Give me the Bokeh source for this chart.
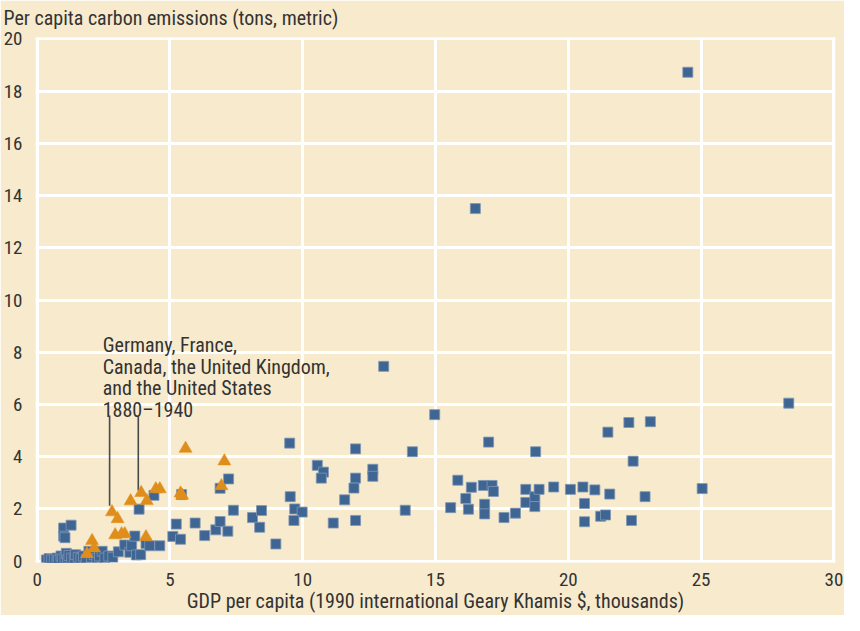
from bokeh.plotting import figure
from bokeh.models import Range1d, Label, FixedTicker, ColumnDataSource, Segment, Title
from bokeh.embed import file_html
from bokeh.resources import INLINE

# --- data: countries today (blue squares) ---
modern_gdp = [0.35, 0.45, 0.55, 0.65, 0.75, 0.8, 0.9, 0.95, 1.05, 1.1, 1.15, 1.2, 1.3, 1.4,
              1.45, 1.55, 1.65, 1.75, 1.85, 1.95, 2.05, 2.15, 2.25, 2.35, 2.45, 2.55, 2.7, 2.85,
              1.0, 1.28, 1.0, 1.05,
              3.06, 3.3, 3.49, 3.56, 3.68, 3.74, 3.9, 4.1, 4.24, 4.62,
              3.84, 4.4, 5.24, 5.11, 5.40, 5.44, 5.95, 6.31, 6.73, 6.89, 7.18, 6.89, 7.21, 7.39,
              8.11, 8.45, 8.38, 8.99,
              9.51, 9.53, 9.70, 9.98, 9.67, 10.55, 10.78, 10.70, 11.99, 11.99, 12.64, 12.64,
              11.93, 11.58, 11.15, 11.99, 13.86, 14.13, 14.97, 13.05, 16.5, 24.5,
              15.84, 16.35, 16.14, 16.80, 17.13, 17.18, 15.57, 16.24, 16.85, 16.85, 17.58, 18.01,
              18.40, 18.40, 18.74, 18.74, 18.90, 19.45, 20.08, 17.0, 18.77,
              20.55, 21.0, 21.56, 22.89, 25.04, 20.61, 20.61, 21.22, 21.40, 22.38, 21.49, 22.28,
              23.09, 22.44, 28.3]
modern_co2 = [0.05, 0.1, 0.05, 0.08, 0.12, 0.04, 0.2, 0.08, 0.15, 0.3, 0.05, 0.22, 0.12, 0.08,
              0.25, 0.15, 0.1, 0.2, 0.07, 0.38, 0.15, 0.25, 0.1, 0.2, 0.38, 0.12, 0.2, 0.15,
              1.27, 1.38, 0.96, 0.9,
              0.36, 0.62, 0.34, 0.59, 0.96, 0.24, 0.25, 0.68, 0.59, 0.59,
              1.99, 2.52, 1.42, 0.95, 0.84, 2.55, 1.46, 0.98, 1.2, 1.52, 1.15, 2.79, 3.15, 1.95,
              1.67, 1.94, 1.3, 0.66,
              4.52, 2.47, 2.0, 1.88, 1.56, 3.67, 3.41, 3.18, 4.30, 3.18, 3.52, 3.25,
              2.80, 2.35, 1.46, 1.56, 1.95, 4.19, 5.61, 7.46, 13.5, 18.72,
              3.10, 2.83, 2.40, 2.90, 2.90, 2.67, 2.05, 1.99, 2.18, 1.81, 1.67, 1.84,
              2.75, 2.25, 2.47, 2.09, 2.75, 2.84, 2.75, 4.56, 4.19,
              2.84, 2.73, 2.57, 2.47, 2.78, 2.21, 1.51, 1.72, 1.77, 1.56, 4.94, 5.31,
              5.34, 3.83, 6.05]

# --- data: Germany, France, Canada, UK, US 1880-1940 (orange triangles) ---
hist_gdp = [1.88, 2.15, 2.07, 2.82, 3.03, 2.94, 3.18, 3.30, 3.52, 3.92, 4.13, 4.10, 4.47,
            4.62, 5.40, 5.46, 5.59, 6.94, 7.05]
hist_co2 = [0.28, 0.5, 0.78, 1.88, 1.62, 1.0, 1.04, 1.04, 2.30, 2.62, 2.31, 0.93, 2.76,
            2.76, 2.60, 2.52, 4.31, 2.88, 3.83]

x_ticks = [0, 5, 10, 15, 20, 25, 30]
y_ticks = [0, 2, 4, 6, 8, 10, 12, 14, 16, 18, 20]

annotation_lines = ["Germany, France,", "Canada, the United Kingdom,",
                    "and the United States", "1880\u20131940"]
pointer_x = [2.73, 3.81]
pointer_top = [5.58, 5.52]
pointer_bottom = [2.12, 2.71]

y_title = "Per capita carbon emissions (tons, metric)"
x_title = "GDP per capita (1990 international Geary Khamis $, thousands)"

BG = "#F7EACD"
BLUE = "#3F6593"
ORANGE = "#E08E1B"
TEXT = "#333333"
FONT = "Roboto Condensed, Roboto"
FS = "20px"
TICK_FS = "19px"

p = figure(width=844, height=615, output_backend="svg", toolbar_location=None,
           x_range=Range1d(-0.06, 30.06), y_range=Range1d(-0.05, 20.05),
           min_border_left=30, min_border_right=9, min_border_top=31, min_border_bottom=50)
p.background_fill_color = BG
p.border_fill_color = BG
p.outline_line_color = None

p.title = Title(text=y_title, align="left", offset=-32, standoff=11,
                vertical_align="top", text_line_height=0.75,
                text_font=FONT, text_font_size=FS, text_color=TEXT,
                text_font_style="normal")

for ax in (p.xaxis[0], p.yaxis[0]):
    ax.axis_line_color = None
    ax.major_tick_line_color = None
    ax.minor_tick_line_color = None
    ax.major_label_text_font = FONT
    ax.major_label_text_font_size = TICK_FS
    ax.major_label_text_color = TEXT
p.xaxis[0].ticker = FixedTicker(ticks=x_ticks)
p.yaxis[0].ticker = FixedTicker(ticks=y_ticks)
p.xaxis[0].major_label_standoff = 4
p.yaxis[0].major_label_standoff = 7
p.xaxis[0].axis_label = x_title
p.xaxis[0].axis_label_standoff = 0
p.xaxis[0].axis_label_text_font = FONT
p.xaxis[0].axis_label_text_font_size = FS
p.xaxis[0].axis_label_text_font_style = "normal"
p.xaxis[0].axis_label_text_color = TEXT

p.xgrid.ticker = FixedTicker(ticks=x_ticks)
p.ygrid.ticker = FixedTicker(ticks=y_ticks)
for g in (p.xgrid[0], p.ygrid[0]):
    g.grid_line_color = "white"
    g.grid_line_width = 3

p.scatter(modern_gdp, modern_co2, marker="square", size=10, fill_color=BLUE,
          line_color="#7f97b5", line_width=0.8)

# pointer lines
src = ColumnDataSource(dict(x0=pointer_x, y0=pointer_top, x1=pointer_x, y1=pointer_bottom))
p.add_glyph(src, Segment(x0="x0", y0="y0", x1="x1", y1="y1", line_color="#4a4a4a", line_width=1.6))

p.scatter(hist_gdp, hist_co2, marker="triangle", size=13, fill_color=ORANGE,
          line_color=ORANGE, line_width=0.5)

line_y = [8.28, 7.45, 6.63, 5.77]
for txt, yy in zip(annotation_lines, line_y):
    p.add_layout(Label(x=2.47, y=yy, text=txt, text_font=FONT, text_font_size=FS,
                       text_color=TEXT, text_baseline="alphabetic"))

open("out.html", "w").write(file_html(p, INLINE))
